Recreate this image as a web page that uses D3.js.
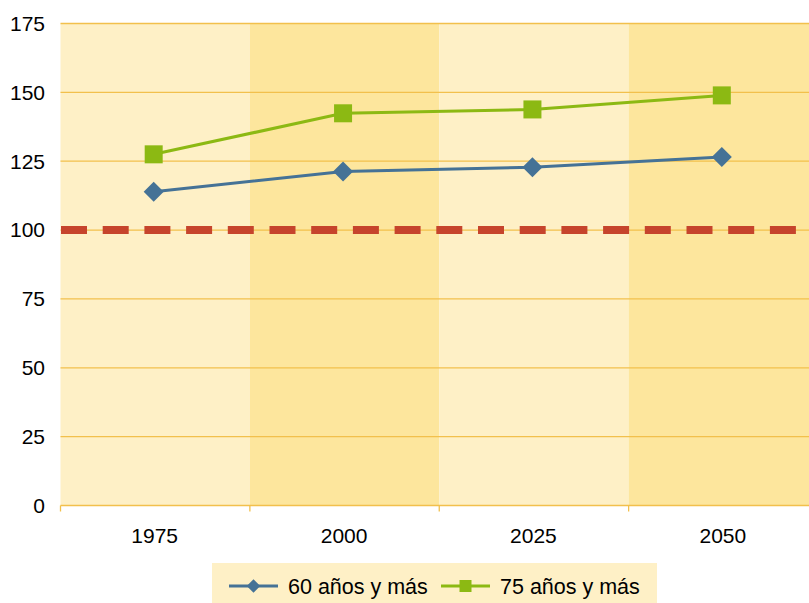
<!DOCTYPE html>
<html><head><meta charset="utf-8">
<script src="https://cdn.jsdelivr.net/npm/d3@7"></script>
<style>body{margin:0;background:#fff}svg{display:block}text{font-family:"Liberation Sans",Arial,Helvetica,sans-serif;fill:#000}</style>
</head><body><svg id="c" width="809" height="603"></svg>
<script>
const categories = ["1975","2000","2025","2050"];
const series60 = [113.9,121.3,122.8,126.5];
const series75 = [127.5,142.4,143.8,148.9];
const referenceValue = 100;
const yTicks = [0,25,50,75,100,125,150,175];
const legendLabels = ["60 años y más","75 años y más"];

const svg = d3.select("#c");
const L = 60.5, R = 818, T = 23.5, B = 505.5;
const x = d3.scaleBand().domain(categories).range([L, R]).padding(0);
const y = d3.scaleLinear().domain([0,175]).range([B, T]);
const cx = d => x(d) + x.bandwidth()/2 - 1.5;

// bands
svg.selectAll("rect.band").data(categories).enter().append("rect")
  .attr("x", d=>x(d)).attr("y", T).attr("width", x.bandwidth()).attr("height", B-T)
  .attr("fill", (d,i)=> i%2===0 ? "#FEF0C6" : "#FDE69D");

// gridlines
svg.append("g").selectAll("line").data(yTicks).enter().append("line")
  .attr("x1", L).attr("x2", 809).attr("y1", d=>y(d)).attr("y2", d=>y(d))
  .attr("stroke", "#F2C04C").attr("stroke-width", 1.3);

// x ticks at band boundaries
svg.append("g").selectAll("line").data(categories).enter().append("line")
  .attr("x1", d=>x(d)).attr("x2", d=>x(d)).attr("y1", B).attr("y2", B+6)
  .attr("stroke", "#F2C04C").attr("stroke-width", 1.3);

// y labels
svg.append("g").selectAll("text").data(yTicks).enter().append("text")
  .attr("x", 45).attr("y", d=>y(d)).attr("dy","0.35em").attr("text-anchor","end")
  .attr("font-size", 21).text(d=>d);

// x labels
svg.append("g").selectAll("text").data(categories).enter().append("text")
  .attr("x", d=>cx(d)+1).attr("y", 543).attr("text-anchor","middle")
  .attr("font-size", 21).text(d=>d);

// reference dashed line
svg.append("line").attr("x1", 61).attr("x2", 809).attr("y1", y(referenceValue)).attr("y2", y(referenceValue))
  .attr("stroke", "#C6442C").attr("stroke-width", 8).attr("stroke-dasharray", "26,15.7");

const line = d3.line().x((d,i)=>cx(categories[i])).y(d=>y(d));
const blue = "#457296", green = "#8CB913";

svg.append("path").datum(series60).attr("d", line).attr("fill","none").attr("stroke", blue).attr("stroke-width", 3);
svg.append("path").datum(series75).attr("d", line).attr("fill","none").attr("stroke", green).attr("stroke-width", 3);

const diamond = d3.symbol().type(d3.symbolSquare).size(200);
svg.append("g").selectAll("path").data(series60).enter().append("path")
  .attr("d", diamond)
  .attr("transform", (d,i)=>`translate(${cx(categories[i])},${y(d)}) rotate(45)`)
  .attr("fill", blue);
svg.append("g").selectAll("rect").data(series75).enter().append("rect")
  .attr("x", (d,i)=>cx(categories[i])-9).attr("y", d=>y(d)-9).attr("width",18).attr("height",18)
  .attr("fill", green);

// legend
const lg = svg.append("g");
lg.append("rect").attr("x",212).attr("y",563).attr("width",445).attr("height",40).attr("fill","#FEF0C6");
const ly = 586;
const items = [{x:229, c:blue, t:legendLabels[0], m:"d"},{x:441, c:green, t:legendLabels[1], m:"s"}];
items.forEach(it=>{
  lg.append("line").attr("x1", it.x).attr("x2", it.x+49).attr("y1", ly).attr("y2", ly).attr("stroke", it.c).attr("stroke-width",3);
  if (it.m==="d") lg.append("path").attr("d", d3.symbol().type(d3.symbolSquare).size(90)).attr("transform",`translate(${it.x+24.5},${ly}) rotate(45)`).attr("fill", it.c);
  else lg.append("rect").attr("x", it.x+24.5-6).attr("y", ly-6).attr("width",12).attr("height",12).attr("fill", it.c);
  lg.append("text").attr("x", it.x+59).attr("y", ly).attr("dy","0.35em").attr("font-size",21.5).text(it.t);
});
</script></body></html>
